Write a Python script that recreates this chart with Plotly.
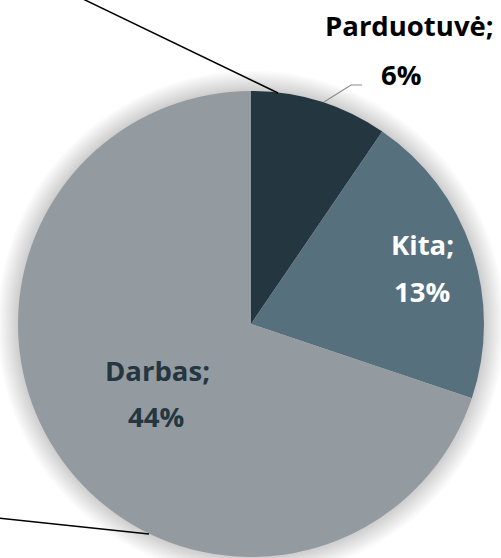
import plotly.graph_objects as go

W, H = 501, 558

categories = ["Parduotuvė", "Kita", "Darbas"]
values = [6, 13, 44]
pct_labels = ["6%", "13%", "44%"]
colors = ["#243640", "#56707e", "#939aa0"]
text_colors = ["#000000", "#ffffff", "#243640"]

cx, cy, r = 251, 324, 233


def px(x):
    return x / W


def py(y):
    return 1 - y / H


fig = go.Figure(go.Pie(
    labels=categories,
    values=values,
    sort=False,
    direction="clockwise",
    rotation=0,
    marker=dict(colors=colors, line=dict(width=0)),
    textinfo="none",
    hoverinfo="label+value",
    showlegend=False,
    domain=dict(x=[px(cx - r), px(cx + r)], y=[py(cy + r), py(cy - r)]),
))

shapes = []
# soft glow/shadow around pie
for i in range(12, 0, -1):
    rr = r + i * 1.7
    shapes.append(dict(type="circle", xref="paper", yref="paper",
                       x0=px(cx - rr), x1=px(cx + rr), y0=py(cy + rr), y1=py(cy - rr),
                       fillcolor="rgba(0,0,0,0.014)", line=dict(width=0), layer="below"))

# black connector lines (from surrounding figure)
shapes.append(dict(type="line", xref="paper", yref="paper",
                   x0=px(83), y0=py(-1), x1=px(278), y1=py(93),
                   line=dict(color="black", width=1.5)))
shapes.append(dict(type="line", xref="paper", yref="paper",
                   x0=px(-2), y0=py(518), x1=px(149), y1=py(534),
                   line=dict(color="black", width=1.5)))
# gray leader line for Parduotuvė
shapes.append(dict(type="path", xref="paper", yref="paper",
                   path=f"M {px(324)},{py(102)} L {px(351)},{py(85)} L {px(362)},{py(85)}",
                   line=dict(color="#8c8c8c", width=1.2)))

# (x of line 1, y of line 1, x of line 2, y of line 2) – cap-centre positions
label_pos = [(409, 27, 401, 75), (422, 245, 422, 292), (157, 371, 156, 417)]
annotations = []
for cat, pct, (x1, y1, x2, y2), tc in zip(categories, pct_labels, label_pos, text_colors):
    for txt, x, y in ((f"{cat};", x1, y1), (pct, x2, y2)):
        annotations.append(dict(
            x=px(x), y=py(y - 1), xref="paper", yref="paper", showarrow=False,
            text=txt, align="center", xanchor="center", yanchor="middle",
            font=dict(family="Open Sans", size=27.5, color=tc, weight="bold"),
        ))

fig.update_layout(
    width=W, height=H,
    margin=dict(l=0, r=0, t=0, b=0),
    paper_bgcolor="white", plot_bgcolor="white",
    shapes=shapes, annotations=annotations,
)

fig.write_html("out.html", config={"displayModeBar": False},
               post_script="document.body.style.margin='0px';")
